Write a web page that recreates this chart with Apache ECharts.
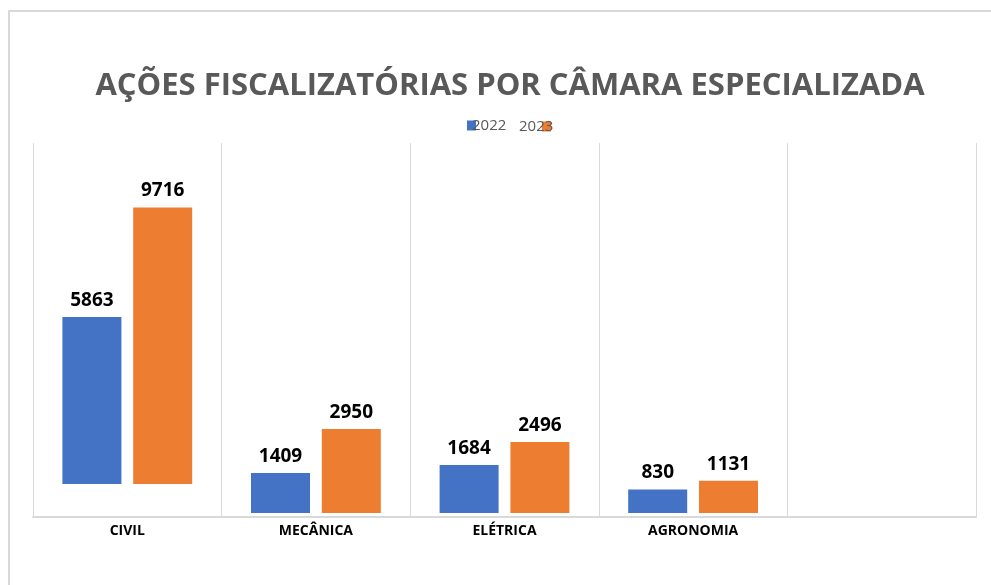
<!DOCTYPE html>
<html>
<head>
<meta charset="utf-8">
<script src="https://cdn.jsdelivr.net/npm/echarts@6/dist/echarts.min.js"></script>
<style>
html, body { margin: 0; padding: 0; background: #fff; }
#chart { width: 991px; height: 585px; }
</style>
</head>
<body>
<div id="chart"></div>
<script>
// dados
var categorias = ['CIVIL', 'MECÂNICA', 'ELÉTRICA', 'AGRONOMIA', ''];
var valores2022 = [5863, 1409, 1684, 830, null];
var valores2023 = [9716, 2950, 2496, 1131, null];
// a barra de CIVIL aparece "flutuando" acima do eixo no original
var baseCivil = [1020, 0, 0, 0, 0];

var fonte = '"Open Sans", "Noto Sans", sans-serif';
var cinza = '#d9d9d9';

var myChart = echarts.init(document.getElementById('chart'));

var rotulo = {
    show: true,
    position: 'top',
    distance: 7,
    color: '#000',
    fontSize: 19,
    fontWeight: 'bold',
    fontFamily: fonte
};

var option = {
    animation: false,
    backgroundColor: '#fff',
    title: {
        text: 'AÇÕES FISCALIZATÓRIAS POR CÂMARA ESPECIALIZADA',
        left: 505,
        top: 66,
        textAlign: 'center',
        textStyle: {
            color: '#595959',
            fontSize: 31,
            fontWeight: 'bold',
            fontFamily: fonte
        }
    },
    // legenda sobreposta como no original
    legend: [{
        data: ['2022'],
        left: 467,
        top: 118,
        padding: 0,
        icon: 'rect',
        itemWidth: 9,
        itemHeight: 10,
        textStyle: { color: '#595959', fontSize: 15, fontFamily: fonte, padding: [4, 0, 0, -9] }
    }, {
        data: ['2023'],
        left: 519,
        top: 119,
        padding: 0,
        icon: 'rect',
        itemWidth: 9,
        itemHeight: 10,
        textStyle: { color: '#595959', fontSize: 15, fontFamily: fonte, padding: [4, 0, 0, -37] }
    }],
    graphic: [{
        type: 'rect',
        shape: { x: 9, y: 11, width: 1100, height: 700 },
        style: { fill: 'none', stroke: cinza, lineWidth: 2 },
        silent: true
    }],
    grid: { left: 33, right: 15, top: 143, bottom: 68 },
    xAxis: {
        type: 'category',
        data: categorias,
        axisTick: { show: false },
        axisLine: { onZero: false, lineStyle: { color: cinza, width: 2 } },
        axisLabel: { color: '#000', fontSize: 14, fontWeight: 'bold', fontFamily: fonte, margin: 7 },
        splitLine: { show: true, lineStyle: { color: cinza, width: 1 } }
    },
    yAxis: {
        type: 'value',
        min: -140,
        max: 13000,
        show: false
    },
    series: [{
        name: 'base1',
        type: 'bar',
        stack: 'a',
        data: baseCivil,
        barWidth: 59,
        barGap: '20%',
        itemStyle: { color: 'transparent' },
        silent: true
    }, {
        name: '2022',
        type: 'bar',
        stack: 'a',
        data: valores2022,
        barWidth: 59,
        barGap: '20%',
        itemStyle: { color: '#4472C4' },
        label: rotulo
    }, {
        name: 'base2',
        type: 'bar',
        stack: 'b',
        data: baseCivil,
        barWidth: 59,
        barGap: '20%',
        itemStyle: { color: 'transparent' },
        silent: true
    }, {
        name: '2023',
        type: 'bar',
        stack: 'b',
        data: valores2023,
        barWidth: 59,
        barGap: '20%',
        itemStyle: { color: '#ED7D31' },
        label: rotulo
    }]
};
myChart.setOption(option);
</script>
</body>
</html>
